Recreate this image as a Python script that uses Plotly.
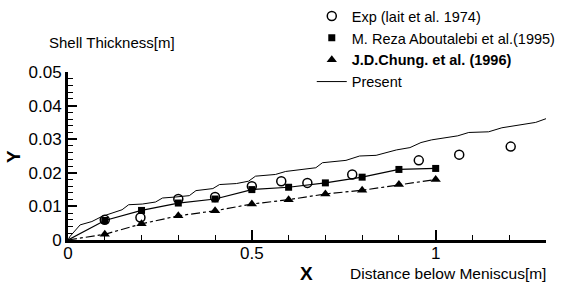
import plotly.graph_objects as go

# Exp (Tait et al. 1974) - open circles
exp_x = [0.1, 0.197, 0.3, 0.4, 0.5, 0.58, 0.651, 0.773, 0.954, 1.064, 1.204]
exp_y = [0.006, 0.0067, 0.0122, 0.0128, 0.016, 0.0175, 0.017, 0.0195, 0.0237, 0.0254, 0.0278]

# M. Reza Aboutalebi et al. (1995) - filled squares, solid line
reza_x = [0, 0.1, 0.2, 0.3, 0.4, 0.5, 0.6, 0.7, 0.8, 0.9, 1.0]
reza_y = [0, 0.0058, 0.0088, 0.011, 0.0122, 0.015, 0.0157, 0.017, 0.0187, 0.021, 0.0213]

# J.D. Chung et al. (1996) - filled triangles, dash-dot line
chung_x = [0, 0.1, 0.2, 0.3, 0.4, 0.5, 0.6, 0.7, 0.8, 0.9, 1.0]
chung_y = [0, 0.0017, 0.0048, 0.0072, 0.0087, 0.0107, 0.012, 0.0137, 0.0148, 0.0165, 0.018]

# Present - thin wavy line
present_x = [0, 0.005, 0.033, 0.065, 0.092, 0.12, 0.147, 0.165, 0.202, 0.238, 0.257,
             0.293, 0.33, 0.348, 0.394, 0.412, 0.458, 0.491, 0.51, 0.564, 0.592,
             0.674, 0.692, 0.756, 0.793, 0.838, 0.866, 0.893, 0.93, 0.96, 0.989,
             1.025, 1.06, 1.09, 1.144, 1.18, 1.245, 1.272, 1.3]
present_y = [0, 0.001, 0.0045, 0.0055, 0.007, 0.008, 0.009, 0.0105, 0.0107, 0.0113, 0.0125,
             0.0128, 0.0132, 0.0147, 0.0153, 0.0165, 0.0168, 0.0175, 0.019, 0.0195, 0.0204,
             0.0215, 0.023, 0.0237, 0.025, 0.0252, 0.026, 0.0268, 0.0275, 0.029, 0.0298,
             0.0304, 0.031, 0.032, 0.0322, 0.0334, 0.0346, 0.035, 0.0361]

FONT = "Liberation Sans, Arial, sans-serif"

fig = go.Figure()
# connecting lines (not in legend)
fig.add_trace(go.Scatter(
    x=reza_x, y=reza_y, mode="lines", showlegend=False, hoverinfo="skip",
    line=dict(color="black", width=1.2)))
fig.add_trace(go.Scatter(
    x=chung_x, y=chung_y, mode="lines", showlegend=False, hoverinfo="skip",
    line=dict(color="black", width=1.2, dash="dashdot")))

fig.add_trace(go.Scatter(
    x=exp_x, y=exp_y, mode="markers", name="Exp (lait et al. 1974)",
    marker=dict(symbol="circle-open", size=9, color="black", line=dict(width=1.5))))
fig.add_trace(go.Scatter(
    x=reza_x[1:], y=reza_y[1:], mode="markers", name="M. Reza Aboutalebi et al.(1995)",
    marker=dict(symbol="square", size=7, color="black")))
fig.add_trace(go.Scatter(
    x=chung_x[1:], y=chung_y[1:], mode="markers", name="<b>J.D.Chung. et al. (1996)</b>",
    marker=dict(symbol="triangle-up", size=9, color="black")))
fig.add_trace(go.Scatter(
    x=present_x, y=present_y, mode="lines", name="Present",
    line=dict(color="black", width=1)))

fig.update_layout(
    width=569, height=291,
    margin=dict(l=68, r=23, t=72, b=51, autoexpand=False),
    paper_bgcolor="white", plot_bgcolor="white",
    font=dict(family=FONT, color="black"),
    showlegend=True,
    legend=dict(x=0.51, y=1.428, xanchor="left", yanchor="top",
                font=dict(size=14.5, family=FONT), bgcolor="rgba(0,0,0,0)",
                tracegroupgap=0),
    xaxis=dict(range=[0, 1.3], showgrid=False, zeroline=False,
               showline=True, linecolor="black", linewidth=3,
               tickvals=[0, 0.5, 1], ticktext=["0", "0.5", "1"],
               ticks="inside", ticklen=10, tickwidth=2, tickcolor="black",
               ticklabelstandoff=-4,
               tickfont=dict(size=17, family=FONT),
               minor=dict(dtick=0.1, ticks="inside", ticklen=5, tickwidth=1, tickcolor="black")),
    yaxis=dict(range=[0, 0.05], showgrid=False, zeroline=False,
               showline=True, linecolor="black", linewidth=3,
               tickvals=[0, 0.01, 0.02, 0.03, 0.04, 0.05],
               ticktext=["0", "0.01", "0.02", "0.03", "0.04", "0.05"],
               ticks="inside", ticklen=9, tickwidth=2, tickcolor="black",
               tickfont=dict(size=17, family=FONT),
               minor=dict(dtick=0.002, ticks="inside", ticklen=5, tickwidth=1, tickcolor="black")),
    annotations=[
        dict(text="Shell Thickness[m]", xref="paper", yref="paper", x=-0.044, y=1.173,
             xanchor="left", yanchor="middle", showarrow=False, font=dict(size=15, family=FONT)),
        dict(text="<b>Y</b>", xref="paper", yref="paper", x=-0.115, y=0.494,
             xanchor="center", yanchor="middle", showarrow=False, textangle=-90,
             font=dict(size=19, family=FONT)),
        dict(text="<b>X</b>", xref="paper", yref="paper", x=0.498, y=-0.2,
             xanchor="center", yanchor="middle", showarrow=False,
             font=dict(size=19, family=FONT)),
        dict(text="Distance below Meniscus[m]", xref="paper", yref="paper", x=0.586, y=-0.2,
             xanchor="left", yanchor="middle", showarrow=False, font=dict(size=15.5, family=FONT)),
    ],
)

# remove the default 8px page margin so the 569x291 figure fills the window exactly
fig.write_html("out.html", config={"displayModeBar": False},
               post_script="document.body.style.margin='0';")
